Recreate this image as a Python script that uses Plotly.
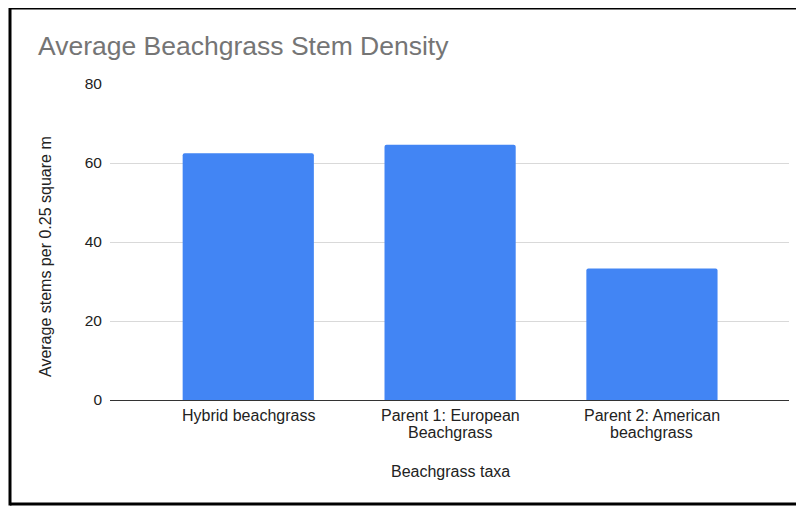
import plotly.graph_objects as go

categories = ["Hybrid beachgrass", "Parent 1: European<br>Beachgrass", "Parent 2: American<br>beachgrass"]
values = [62.5, 64.6, 33.3]
y_ticks = [0, 20, 40, 60, 80]

# page body adds an 8px margin, so the figure is 8px smaller and coordinates shifted
OFF = 8
W, H = 804 - OFF, 506 - OFF
L, R, T, B = 110 - OFF, 789 - OFF, 84 - OFF, 400 - OFF  # plot area in px (figure coords)

def px(x):
    return (x - OFF - L) / (R - L)

def py(y):
    return (B - (y - OFF)) / (B - T)

FONT = "Liberation Sans, Arial, sans-serif"

fig = go.Figure(go.Bar(
    x=list(range(len(categories))), y=values,
    marker=dict(color="#4285F4", line=dict(width=0), cornerradius=2),
    width=0.65, hoverinfo="skip",
))

annotations = [
    dict(text="Average Beachgrass Stem Density", xref="paper", yref="paper",
         x=px(36), y=py(46), xanchor="left", yanchor="middle", showarrow=False,
         font=dict(family=FONT, size=26.5, color="#757575")),
    dict(text="Average stems per 0.25 square m", xref="paper", yref="paper",
         x=px(45), y=py(257), xanchor="center", yanchor="middle", showarrow=False,
         textangle=-90, font=dict(family=FONT, size=16, color="#222222")),
    dict(text="Beachgrass taxa", xref="paper", yref="paper",
         x=px(450), y=py(472), xanchor="center", yanchor="middle", showarrow=False,
         font=dict(family=FONT, size=16, color="#222222")),
]
# category labels, one annotation per line for tight line spacing
for i, cat in enumerate(categories):
    for j, line in enumerate(cat.split("<br>")):
        annotations.append(dict(
            text=line, xref="x", yref="paper", x=i, y=py(415 + 17 * j),
            xanchor="center", yanchor="middle", showarrow=False,
            font=dict(family=FONT, size=16, color="#222222"),
        ))

fig.update_layout(
    width=W, height=H,
    margin=dict(l=L, r=W - R, t=T, b=H - B, pad=0),
    paper_bgcolor="white", plot_bgcolor="white",
    showlegend=False,
    font=dict(family=FONT, size=16, color="#222222"),
    xaxis=dict(
        range=[-0.685, 2.679], tickmode="array",
        tickvals=list(range(len(categories))), showticklabels=False,
        showgrid=False, zeroline=False, showline=False, ticks="",
        fixedrange=True,
    ),
    yaxis=dict(
        range=[0, 80], tickmode="array", tickvals=y_ticks,
        showgrid=True, gridcolor="#d9d9d9", gridwidth=1,
        zeroline=True, zerolinecolor="#333333", zerolinewidth=1,
        showline=False, ticks="", ticklabelstandoff=7,
        tickfont=dict(size=15.5, color="#222222"), fixedrange=True,
    ),
    annotations=annotations,
    shapes=[
        dict(type="line", xref="paper", yref="paper", x0=px(10), x1=px(820), y0=py(8), y1=py(8),
             line=dict(color="black", width=3)),
        dict(type="line", xref="paper", yref="paper", x0=px(10), x1=px(820), y0=py(504), y1=py(504),
             line=dict(color="black", width=3)),
        dict(type="line", xref="paper", yref="paper", x0=px(10), x1=px(10), y0=py(6.5), y1=py(505.5),
             line=dict(color="black", width=3)),
    ],
)

fig.write_html("out.html")
